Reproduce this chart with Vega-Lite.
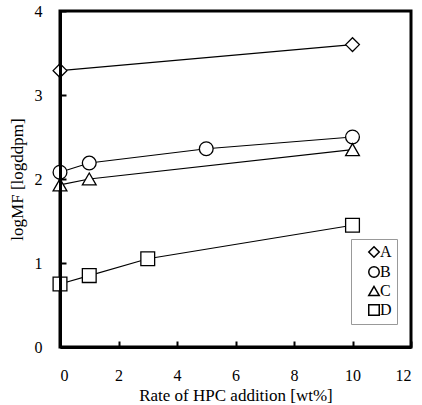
{
  "$schema": "https://vega.github.io/schema/vega-lite/v6.json",
  "width": 351,
  "height": 336,
  "autosize": "none",
  "padding": {"left": 60, "top": 11, "right": 11, "bottom": 58},
  "background": "white",
  "config": {
    "view": {"stroke": "black", "strokeWidth": 3},
    "font": "Liberation Serif",
    "axis": {
      "grid": false,
      "ticks": true,
      "domainColor": "black",
      "domainWidth": 3,
      "tickColor": "black",
      "tickWidth": 2,
      "tickSize": -6,
      "labelFont": "Liberation Serif",
      "labelFontSize": 16,
      "labelColor": "black",
      "titleFont": "Liberation Serif",
      "titleFontSize": 17,
      "titleFontWeight": "normal",
      "titleColor": "black"
    }
  },
  "data": {
    "values": [
      {"series": "A", "x": 0, "y": 3.29},
      {"series": "A", "x": 10, "y": 3.6},
      {"series": "B", "x": 0, "y": 2.08},
      {"series": "B", "x": 1, "y": 2.19},
      {"series": "B", "x": 5, "y": 2.36},
      {"series": "B", "x": 10, "y": 2.5},
      {"series": "C", "x": 0, "y": 1.93},
      {"series": "C", "x": 1, "y": 2.0},
      {"series": "C", "x": 10, "y": 2.35},
      {"series": "D", "x": 0, "y": 0.75},
      {"series": "D", "x": 1, "y": 0.85},
      {"series": "D", "x": 3, "y": 1.05},
      {"series": "D", "x": 10, "y": 1.45}
    ]
  },
  "encoding": {
    "x": {
      "field": "x",
      "type": "quantitative",
      "scale": {"domain": [0, 12], "nice": false, "zero": false},
      "axis": {
        "values": [0, 2, 4, 6, 8, 10, 12],
        "title": "Rate of HPC addition [wt%]",
        "labelPadding": 26,
        "titlePadding": 4,
        "zindex": 1
      }
    },
    "y": {
      "field": "y",
      "type": "quantitative",
      "scale": {"domain": [0, 4], "nice": false, "zero": false},
      "axis": {
        "values": [0, 1, 2, 3, 4],
        "title": "logMF [logddpm]",
        "labelPadding": 24,
        "titlePadding": 8,
        "zindex": 1
      }
    }
  },
  "layer": [
    {
      "mark": {"type": "line", "color": "black", "strokeWidth": 1.1},
      "encoding": {"detail": {"field": "series", "type": "nominal"}}
    },
    {
      "mark": {"type": "point", "filled": true, "fill": "white", "stroke": "black", "strokeWidth": 1.3, "opacity": 1, "size": 190},
      "encoding": {
        "shape": {
          "field": "series",
          "type": "nominal",
          "scale": {"domain": ["A", "B", "C", "D"], "range": ["diamond", "circle", "triangle-up", "square"]},
          "legend": {
            "title": null,
            "orient": "none",
            "legendX": 291,
            "legendY": 228,
            "strokeColor": "#999",
            "padding": 5,
            "symbolOffset": 10,
            "symbolSize": 110,
            "labelOffset": -2,
            "labelFontSize": 16,
            "labelFont": "Liberation Serif",
            "labelColor": "black",
            "rowPadding": 2,
            "encode": {
              "symbols": {
                "update": {
                  "fill": {"value": "white"},
                  "stroke": {"value": "black"},
                  "strokeWidth": {"value": 1.4},
                  "opacity": {"value": 1}
                }
              }
            }
          }
        }
      }
    }
  ]
}
